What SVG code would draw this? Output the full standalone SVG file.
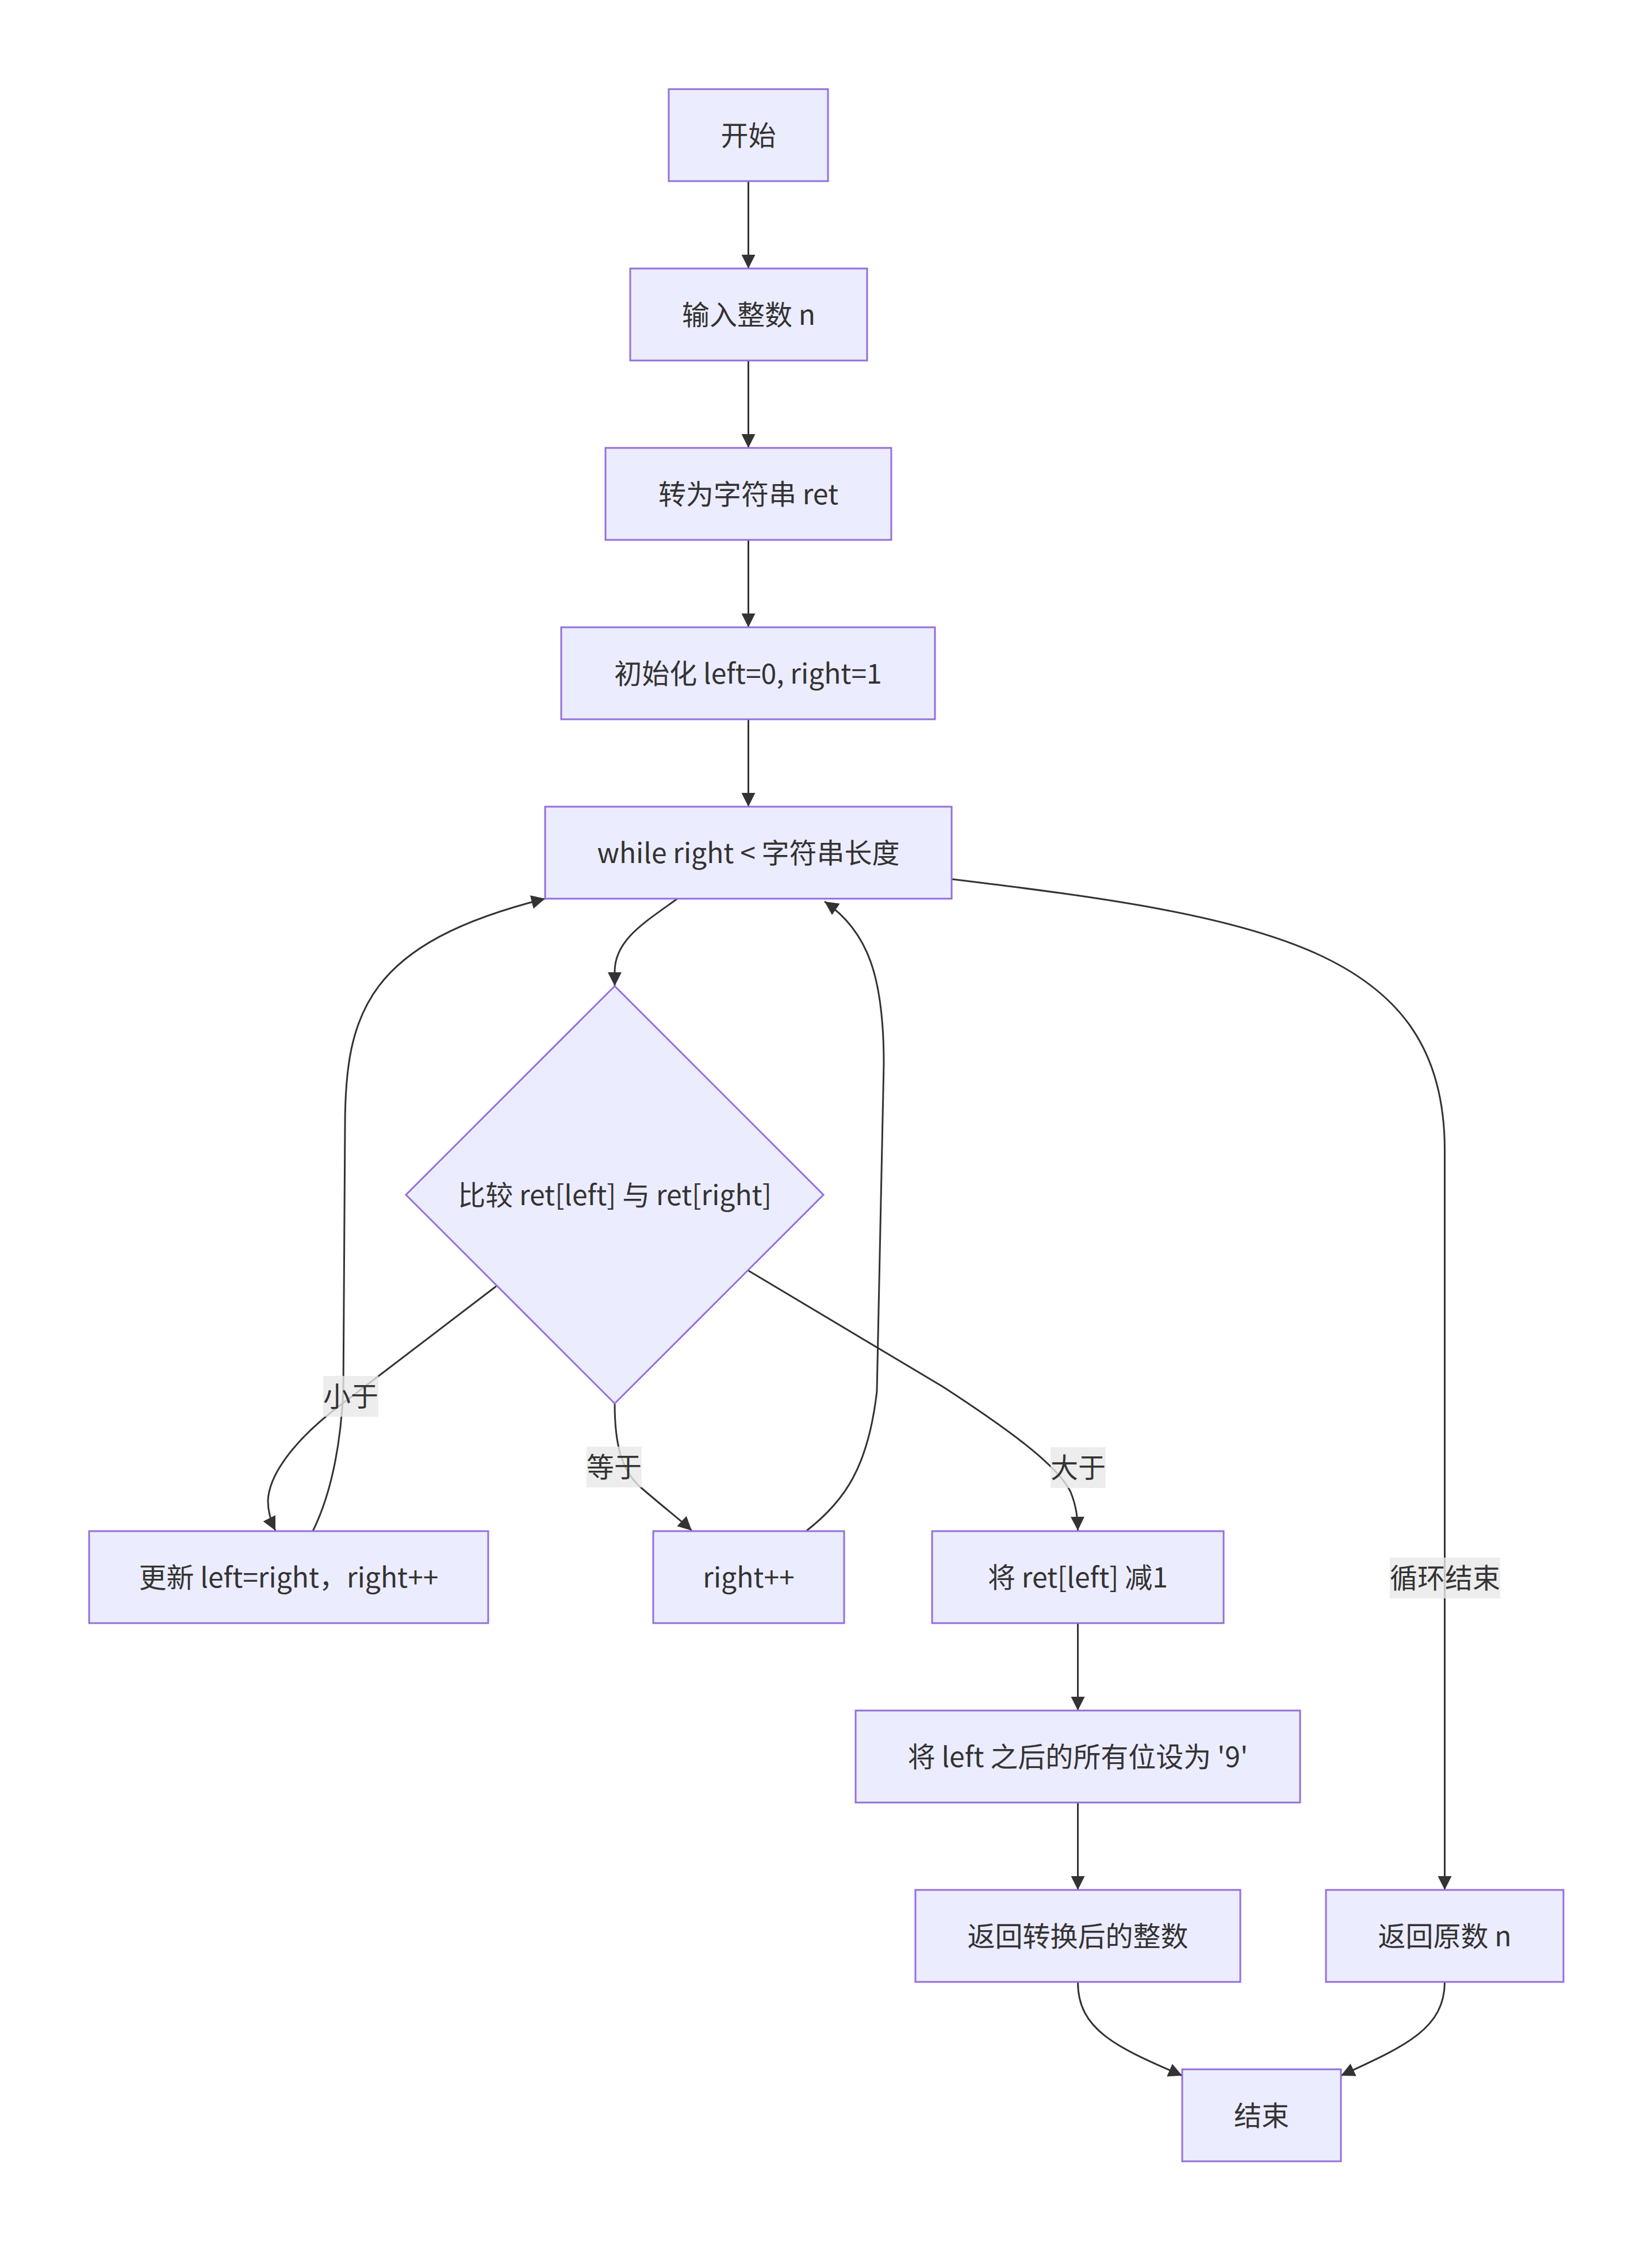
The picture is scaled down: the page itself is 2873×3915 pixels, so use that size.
<svg xmlns="http://www.w3.org/2000/svg" width="2873" height="3915" viewBox="0 0 2873 3915">
<style>
.node rect,.node polygon{fill:#ECECFF;stroke:#9370DB;stroke-width:3}
.node text,.lbl text{font-family:"Noto Sans CJK SC","Noto Sans",sans-serif;font-size:48px;fill:#333;text-anchor:middle}
.edge{fill:none;stroke:#333;stroke-width:3;marker-end:url(#arrow)}
.lbl rect{fill:#e8e8e8;fill-opacity:0.8}
</style>
<defs>
<marker id="arrow" viewBox="0 0 10 10" refX="10" refY="5" markerUnits="userSpaceOnUse" markerWidth="24" markerHeight="24" orient="auto">
<path d="M0,0 L10,5 L0,10 z" fill="#333"/>
</marker>
</defs>
<rect width="2873" height="3915" fill="#fff"/>
<g id="connectors">
<path class="edge" d="M1301.5,315 L1301.5,467"/>
<path class="edge" d="M1301.5,627 L1301.5,779"/>
<path class="edge" d="M1301.5,939 L1301.5,1091"/>
<path class="edge" d="M1301.5,1251 L1301.5,1403"/>
<path class="edge" d="M1178,1563 C1120,1605 1069,1635 1069,1690 L1069,1715"/>
<path class="edge" d="M863,2237 L580,2453 C520,2500 468,2560 466,2610 C466,2630 472,2648 479,2662"/>
<path class="edge" d="M1069,2441 C1069,2510 1080,2560 1118,2590 C1150,2618 1185,2645 1203,2662"/>
<path class="edge" d="M1300,2209 L1640,2412 C1760,2490 1840,2550 1862,2595 C1872,2620 1874,2640 1874.5,2662"/>
<path class="edge" d="M544,2663 C575,2600 592,2520 597,2420 L600,1960 C600,1760 640,1640 948,1563"/>
<path class="edge" d="M1403,2662 C1470,2610 1510,2550 1525,2420 L1537,1850 C1537,1700 1510,1620 1434,1568"/>
<path class="edge" d="M1655,1529 C2200,1595 2512.5,1650 2512.5,2000 L2512.5,3287"/>
<path class="edge" d="M1874.5,2823 L1874.5,2975"/>
<path class="edge" d="M1874.5,3135 L1874.5,3287"/>
<path class="edge" d="M1874.5,3447 C1874.5,3530 1940,3560 2056,3610"/>
<path class="edge" d="M2512.5,3447 C2512.5,3530 2440,3560 2332,3610"/>
</g>
<g id="edge-labels">
<g class="lbl" id="label-less"><rect x="562" y="2393" width="96" height="71"/><text x="610" y="2446">小于</text></g>
<g class="lbl" id="label-equal"><rect x="1020" y="2516" width="96" height="71"/><text x="1068" y="2569">等于</text></g>
<g class="lbl" id="label-greater"><rect x="1827" y="2517" width="96" height="71"/><text x="1875" y="2570">大于</text></g>
<g class="lbl" id="label-end"><rect x="2417" y="2709" width="192" height="71"/><text x="2513" y="2762">循环结束</text></g>
</g>
<g class="node" id="n-start"><rect x="1163" y="155" width="277" height="160"/><text x="1301.5" y="253">开始</text></g>
<g class="node" id="n-input"><rect x="1096" y="467" width="412" height="160"/><text x="1302" y="565">输入整数 n</text></g>
<g class="node" id="n-tostr"><rect x="1053" y="779" width="497" height="160"/><text x="1301.5" y="877">转为字符串 ret</text></g>
<g class="node" id="n-init"><rect x="976" y="1091" width="650" height="160"/><text x="1301" y="1189">初始化 left=0, right=1</text></g>
<g class="node" id="n-while"><rect x="948" y="1403" width="707" height="160"/><text x="1301.5" y="1501">while right &lt; 字符串长度</text></g>
<g class="node" id="n-compare"><polygon points="1069,1715 1432,2078 1069,2441 706,2078"/><text x="1069" y="2096">比较 ret[left] 与 ret[right]</text></g>
<g class="node" id="n-update"><rect x="155" y="2663" width="694" height="160"/><text x="502" y="2761">更新 left=right，right++</text></g>
<g class="node" id="n-rightinc"><rect x="1136" y="2663" width="332" height="160"/><text x="1302" y="2761">right++</text></g>
<g class="node" id="n-dec"><rect x="1621" y="2663" width="507" height="160"/><text x="1874.5" y="2761">将 ret[left] 减1</text></g>
<g class="node" id="n-set9"><rect x="1488" y="2975" width="773" height="160"/><text x="1874.5" y="3073">将 left 之后的所有位设为 '9'</text></g>
<g class="node" id="n-retconv"><rect x="1592" y="3287" width="565" height="160"/><text x="1874.5" y="3385">返回转换后的整数</text></g>
<g class="node" id="n-retorig"><rect x="2306" y="3287" width="413" height="160"/><text x="2512.5" y="3385">返回原数 n</text></g>
<g class="node" id="n-end"><rect x="2056" y="3599" width="276" height="160"/><text x="2194" y="3697">结束</text></g>
</svg>
